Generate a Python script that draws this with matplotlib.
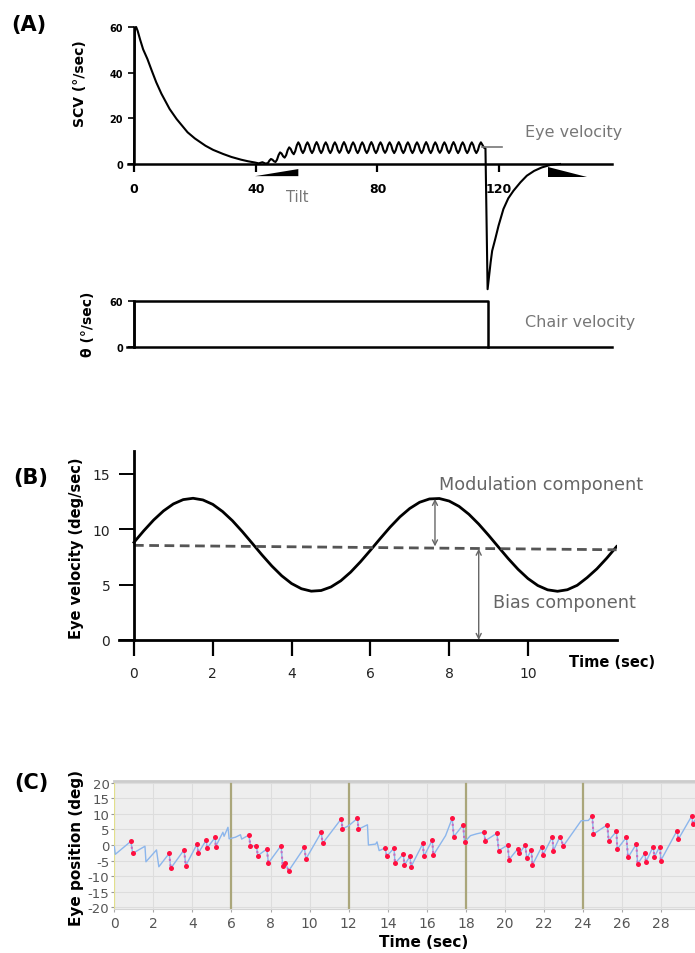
import matplotlib.pyplot as plt

plt.rcParams['axes.unicode_minus'] = False

W, H = 695, 954  # output size in pixels

# ---------------- data: panel (A) ----------------
# eye velocity (deg/s): post-rotatory decay
decay_t = [0, 0.3, 0.7, 1.2, 2.0, 3.0, 4.4, 5.8, 7.3, 9.0, 11.7, 14.0, 17.6, 20.0,
           23.5, 26.0, 29.3, 32.0, 35.2, 37.5, 39.6, 41.0, 42.2, 43.2, 44.0, 44.5]
decay_v = [0, 59, 60, 58.3, 54.5, 50.2, 46.0, 41.0, 35.8, 30.8, 24.1, 19.7, 13.9, 11.2,
           8.0, 6.2, 4.4, 3.1, 1.9, 1.2, 0.7, 0.3, 0.8, 0.2, 0.4, 1.5]
# modulation during tilt
osc_t = [45.0, 45.5, 46.0, 46.5, 47.0, 47.5, 48.0, 48.5, 49.0, 49.5, 50.0, 50.5,
         51.0, 51.5, 52.0, 52.5, 53.0, 53.5,
         54.0, 54.5, 55.0, 55.5, 56.0, 56.5, 57.0, 57.5, 58.0, 58.5, 59.0, 59.5,
         60.0, 60.5, 61.0, 61.5, 62.0, 62.5, 63.0, 63.5, 64.0, 64.5, 65.0, 65.5,
         66.0, 66.5, 67.0, 67.5, 68.0, 68.5, 69.0, 69.5, 70.0, 70.5, 71.0, 71.5,
         72.0, 72.5, 73.0, 73.5, 74.0, 74.5, 75.0, 75.5, 76.0, 76.5, 77.0, 77.5,
         78.0, 78.5, 79.0, 79.5, 80.0, 80.5, 81.0, 81.5, 82.0, 82.5, 83.0, 83.5,
         84.0, 84.5, 85.0, 85.5, 86.0, 86.5, 87.0, 87.5, 88.0, 88.5, 89.0, 89.5,
         90.0, 90.5, 91.0, 91.5, 92.0, 92.5, 93.0, 93.5, 94.0, 94.5, 95.0, 95.5,
         96.0, 96.5, 97.0, 97.5, 98.0, 98.5, 99.0, 99.5, 100.0, 100.5, 101.0, 101.5,
         102.0, 102.5, 103.0, 103.5, 104.0, 104.5, 105.0, 105.5, 106.0, 106.5, 107.0, 107.5,
         108.0, 108.5, 109.0, 109.5, 110.0, 110.5, 111.0, 111.5, 112.0, 112.5, 113.0, 113.5,
         114.0, 114.5, 115.0]
osc_v = [2.2, 1.9, 1.2, 0.9, 1.9, 3.9, 5.1, 4.6, 3.4, 2.8, 3.9, 6.1,
         7.3, 6.6, 5.1, 4.3, 5.7, 8.2,
         9.5, 8.3, 6.0, 4.8, 6.0, 8.3, 9.5, 8.3, 6.0, 4.8, 6.0, 8.3,
         9.6, 8.3, 6.0, 4.8, 6.0, 8.3, 9.5, 8.3, 6.0, 4.8, 6.0, 8.3,
         9.5, 8.3, 6.0, 4.9, 6.0, 8.3, 9.6, 8.3, 6.0, 4.8, 6.0, 8.3,
         9.5, 8.3, 6.0, 4.8, 6.0, 8.3, 9.5, 8.3, 6.0, 4.8, 6.0, 8.3,
         9.6, 8.3, 6.0, 4.8, 6.0, 8.3, 9.5, 8.3, 6.0, 4.9, 6.0, 8.3,
         9.5, 8.3, 6.0, 4.8, 6.0, 8.3, 9.6, 8.3, 6.0, 4.8, 6.0, 8.3,
         9.5, 8.3, 6.0, 4.8, 6.0, 8.3, 9.5, 8.3, 6.0, 4.8, 6.0, 8.3,
         9.6, 8.3, 6.0, 4.8, 6.0, 8.3, 9.5, 8.3, 6.0, 4.9, 6.0, 8.3,
         9.5, 8.3, 6.0, 4.8, 6.0, 8.3, 9.6, 8.3, 6.0, 4.8, 6.0, 8.3,
         9.5, 8.3, 6.0, 4.8, 6.0, 8.3, 9.5, 8.3, 6.0, 4.8, 6.0, 8.3,
         9.5, 8.4, 7.2]
# stop and reversed post-rotatory response
stop_t = [115.5, 116.2, 116.7, 117.2, 117.7, 118.7, 119.8, 121.4, 123.0, 124.7,
          127.0, 129.1, 131.5, 134.0, 136.8, 140.0]
stop_v = [6.8, -54.8, -48.9, -43.0, -38.0, -32.9, -27.0, -19.7, -15.0, -11.7,
          -8.0, -5.1, -3.0, -1.5, -0.4, 0.0]
steady_t = [114.4, 121.0]
steady_v = [7.3, 7.3]
tilt_on_t = [39.8, 54.0, 54.0]
tilt_on_v = [-5.3, -2.2, -5.3]
tilt_off_t = [135.9, 135.9, 148.8]
tilt_off_v = [-1.4, -5.6, -5.6]
# chair velocity
chair_t = [0, 0, 116.4, 116.4]
chair_v = [0, 60, 60, 0]

# ---------------- data: panel (B) ----------------
b_t = [0, 0.25, 0.5, 0.75, 1.0, 1.25, 1.5, 1.75, 2.0, 2.25, 2.5, 2.75, 3.0,
       3.25, 3.5, 3.75, 4.0, 4.25, 4.5, 4.75, 5.0, 5.25, 5.5, 5.75, 6.0,
       6.25, 6.5, 6.75, 7.0, 7.25, 7.5, 7.75, 8.0, 8.25, 8.5, 8.75, 9.0,
       9.25, 9.5, 9.75, 10.0, 10.25, 10.5, 10.75, 11.0, 11.25, 11.5, 11.75,
       12.0, 12.25]
b_v = [8.82, 9.87, 10.84, 11.66, 12.29, 12.68, 12.80, 12.65, 12.25, 11.60,
       10.77, 9.79, 8.74, 7.68, 6.68, 5.80, 5.10, 4.63, 4.41, 4.47, 4.79,
       5.35, 6.13, 7.07, 8.10, 9.16, 10.19, 11.12, 11.88, 12.44, 12.74, 12.78,
       12.55, 12.07, 11.36, 10.47, 9.46, 8.40, 7.35, 6.38, 5.55, 4.92, 4.53,
       4.40, 4.54, 4.94, 5.63, 6.43, 7.39, 8.44]
bias_t = [0, 12.25]
bias_v = [8.55, 8.15]
mod_arrow = (7.64, 12.75, 8.45)   # x, top, bottom
bias_arrow = (8.75, 0.0, 8.25)

# ---------------- data: panel (C) ----------------
c_t = [0.00, 0.05, 0.85, 0.94, 1.57, 1.62, 2.16, 2.28, 2.81, 2.89, 3.57, 3.66,
       4.24, 4.30, 4.71, 4.75, 5.17, 5.19, 5.56, 5.62, 5.82, 5.88, 6.20, 6.46,
       6.52, 6.89, 6.97, 7.27, 7.35, 7.81, 7.89, 8.54, 8.62, 8.75, 8.93, 9.73,
       9.81, 10.60, 10.66, 11.63, 11.68, 12.00, 12.45, 12.50, 12.96, 13.01,
       13.38, 13.45, 13.56, 13.86, 13.95, 14.32, 14.37, 14.80, 14.85, 15.14,
       15.19, 15.80, 15.85, 16.28, 16.33, 16.96, 17.30, 17.38, 17.86, 17.93,
       18.23, 18.55, 18.91, 19.00, 19.59, 19.68, 20.14, 20.21, 20.65, 20.74,
       21.04, 21.12, 21.35, 21.41, 21.89, 21.95, 22.43, 22.48, 22.82, 22.99,
       23.90, 24.27, 24.47, 24.53, 25.24, 25.31, 25.71, 25.75, 26.22, 26.30,
       26.73, 26.79, 27.16, 27.22, 27.59, 27.65, 27.93, 27.98, 28.81, 28.88,
       29.57, 29.62, 29.73]
c_y = [-0.5, -3.0, 1.2, -2.7, -0.4, -5.4, -1.6, -7.0, -2.7, -7.5, -1.6, -6.6,
       0.3, -2.6, 1.6, -1.0, 2.5, -0.5, 4.1, 2.8, 5.7, 2.0, 2.5, 3.3,
       1.9, 3.2, -0.3, -0.2, -3.4, -1.3, -5.8, -0.2, -6.6, -5.8, -8.3, -0.8,
       -4.5, 4.1, 0.5, 8.5, 5.2, 6.2, 8.6, 5.1, 6.5, 0.0,
       0.3, 1.0, -1.8, -1.0, -3.6, -1.0, -5.9, -2.9, -6.4, -3.7,
       -7.0, 0.5, -3.7, 1.6, -3.3, 3.0, 8.6, 2.7, 6.5, 0.9,
       3.0, 3.6, 4.1, 1.4, 3.8, -1.8, 0.0, -4.7, -1.3, -2.7,
       0.0, -4.3, -1.6, -6.4, -0.5, -3.2, 2.7, -1.8, 2.7, -0.3,
       7.8, 7.9, 9.4, 3.5, 6.5, 1.4, 4.4, -1.3, 2.5, -4.0,
       0.3, -6.1, -2.7, -5.4, -0.5, -3.8, -0.5, -5.0, 4.6, 1.9,
       9.4, 6.7, 8.0]
# quick phases (start -> end)
sac_t0 = [0.85, 2.81, 3.57, 4.24, 4.71, 5.17, 6.89, 7.27, 7.81, 8.54, 8.75, 9.73,
          10.60, 11.63, 12.45, 13.86, 14.32, 14.80, 15.14, 15.80, 16.28, 17.30,
          17.86, 18.91, 19.59, 20.14, 20.65, 21.04, 21.35, 21.89, 22.43, 22.82,
          24.47, 25.24, 25.71, 26.22, 26.73, 27.16, 27.59, 27.93, 28.81, 29.57]
sac_y0 = [1.2, -2.7, -1.6, 0.3, 1.6, 2.5, 3.2, -0.2, -1.3, -0.2, -5.8, -0.8,
          4.1, 8.5, 8.6, -1.0, -1.0, -2.9, -3.7, 0.5, 1.6, 8.6,
          6.5, 4.1, 3.8, 0.0, -1.3, 0.0, -1.6, -0.5, 2.7, 2.7,
          9.4, 6.5, 4.4, 2.5, 0.3, -2.7, -0.5, -0.5, 4.6, 9.4]
sac_t1 = [0.94, 2.89, 3.66, 4.30, 4.75, 5.19, 6.97, 7.35, 7.89, 8.62, 8.93, 9.81,
          10.66, 11.68, 12.50, 13.95, 14.37, 14.85, 15.19, 15.85, 16.33, 17.38,
          17.93, 19.00, 19.68, 20.21, 20.74, 21.12, 21.41, 21.95, 22.48, 22.99,
          24.53, 25.31, 25.75, 26.30, 26.79, 27.22, 27.65, 27.98, 28.88, 29.62]
sac_y1 = [-2.7, -7.5, -6.6, -2.6, -1.0, -0.5, -0.3, -3.4, -5.8, -6.6, -8.3, -4.5,
          0.5, 5.2, 5.1, -3.6, -5.9, -6.4, -7.0, -3.7, -3.3, 2.7,
          0.9, 1.4, -1.8, -4.7, -2.7, -4.3, -6.4, -3.2, -1.8, -0.3,
          3.5, 1.4, -1.3, -4.0, -6.1, -5.4, -3.8, -5.0, 1.9, 6.7]
dividers = [0, 6, 12, 18, 24]


def fx(x):
    return x / W


def fy(y):
    return 1 - y / H


fig = plt.figure(figsize=(W / 100, H / 100), dpi=100)

##### (A) eye velocity
ax1 = fig.add_axes([fx(116), fy(295), 500 / W, 275 / H])
ax1.patch.set_alpha(0)
ax1.set_xlim(-5.92, 158.4)
ax1.set_ylim(-56.9, 63.5)
ax1.plot(decay_t + osc_t + stop_t, decay_v + osc_v + stop_v, color='black', lw=1.5,
         solid_joinstyle='round')
ax1.plot(steady_t, steady_v, color='#777777', lw=1.2)
ax1.fill(tilt_on_t, tilt_on_v, color='black', lw=0)
ax1.fill(tilt_off_t, tilt_off_v, color='black', lw=0)
for s in ['top', 'right']:
    ax1.spines[s].set_visible(False)
ax1.spines['bottom'].set_position(('data', 0))
ax1.spines['bottom'].set_bounds(-2, 157)
ax1.spines['left'].set_position(('data', 0))
ax1.spines['left'].set_bounds(0, 60)
for s in ['bottom', 'left']:
    ax1.spines[s].set_linewidth(1.8)
ax1.set_xticks([0, 40, 80, 120], ['0', '40', '80', '120'], fontsize=9, fontweight='bold')
ax1.set_yticks([0, 20, 40, 60], ['0', '20', '40', '60'], fontsize=7, fontweight='bold')
ax1.tick_params(axis='x', direction='out', length=6, width=1.6, pad=7)
ax1.tick_params(axis='y', direction='out', length=4, width=1.2, pad=4)

##### (A) chair velocity
ax2 = fig.add_axes([fx(116), fy(352), 500 / W, 60 / H])
ax2.patch.set_alpha(0)
ax2.set_xlim(-5.92, 158.4)
ax2.set_ylim(-5.2, 73.0)
ax2.plot(chair_t, chair_v, color='black', lw=1.8)
for s in ['top', 'right']:
    ax2.spines[s].set_visible(False)
ax2.spines['bottom'].set_position(('data', 0))
ax2.spines['bottom'].set_bounds(-2.3, 157)
ax2.spines['bottom'].set_linewidth(1.8)
ax2.spines['left'].set_position(('data', 0))
ax2.spines['left'].set_bounds(0, 60)
ax2.spines['left'].set_linewidth(1.8)
ax2.set_xticks([])
ax2.set_yticks([0, 60], ['0', '60'], fontsize=7, fontweight='bold')
ax2.tick_params(axis='y', direction='out', length=4, width=1.2, pad=4)

fig.text(fx(29), fy(25), '(A)', fontsize=15, fontweight='bold', ha='center', va='center')
fig.text(fx(80), fy(84), 'SCV (°/sec)', fontsize=10, fontweight='bold', rotation=90,
         ha='center', va='center')
fig.text(fx(88), fy(324), 'θ (°/sec)', fontsize=10, fontweight='bold', rotation=90,
         ha='center', va='center')
fig.text(fx(525), fy(133), 'Eye velocity', fontsize=11.5, color='#777777', va='center')
fig.text(fx(297), fy(197), 'Tilt', fontsize=10.5, color='#777777', ha='center', va='center')
fig.text(fx(525), fy(322), 'Chair velocity', fontsize=11.5, color='#777777', va='center')

##### (B) modulation / bias
ax3 = fig.add_axes([fx(119), fy(641), 498 / W, 189 / H])
ax3.patch.set_alpha(0)
ax3.set_xlim(-0.38, 12.26)
ax3.set_ylim(0, 17.07)
ax3.plot(b_t, b_v, color='black', lw=2)
ax3.plot(bias_t, bias_v, color='#555555', lw=2, dashes=(3.5, 2))
for xa, y_top, y_bot in [mod_arrow, bias_arrow]:
    ax3.annotate('', xy=(xa, y_top), xytext=(xa, y_bot),
                 arrowprops=dict(arrowstyle='<->', color='#666666', lw=1,
                                 mutation_scale=9, shrinkA=0, shrinkB=0))
for s in ['top', 'right']:
    ax3.spines[s].set_visible(False)
ax3.spines['left'].set_position(('data', 0))
ax3.spines['left'].set_linewidth(2)
ax3.spines['bottom'].set_linewidth(2)
ax3.set_xticks([0, 2, 4, 6, 8, 10])
ax3.set_yticks([0, 5, 10, 15])
ax3.tick_params(axis='x', direction='out', length=11.5, width=1.6, pad=7, labelsize=10,
                labelcolor='#222222')
ax3.tick_params(axis='y', direction='out', length=11, width=1.4, pad=6, labelsize=10,
                labelcolor='#222222')

fig.text(fx(31), fy(478), '(B)', fontsize=15, fontweight='bold', ha='center', va='center')
fig.text(fx(77), fy(548), 'Eye velocity (deg/sec)', fontsize=10.5, fontweight='bold',
         rotation=90, ha='center', va='center')
fig.text(fx(612), fy(663), 'Time (sec)', fontsize=10.5, fontweight='bold',
         ha='center', va='center')
fig.text(fx(439), fy(485), 'Modulation component', fontsize=12.7, color='#666666', va='center')
fig.text(fx(493), fy(603), 'Bias component', fontsize=12.7, color='#666666', va='center')

##### (C) eye position trace
ax4 = fig.add_axes([fx(114.3), fy(910), 580.7 / W, 128 / H])
ax4.set_facecolor('#eeeeee')
ax4.set_xlim(0, 29.73)
ax4.set_ylim(-20.6, 20.6)
ax4.set_xticks(range(0, 30, 2))
ax4.set_yticks(range(-20, 21, 5))
ax4.grid(color='#dddddd', lw=0.8)
ax4.set_axisbelow(True)
for d in dividers:
    ax4.axvline(d, color='#e2df8c' if d == 0 else '#aaa67a', lw=1.6)
ax4.plot(c_t, c_y, color='#8cb6ec', lw=1)
for t0, y0, t1, y1 in zip(sac_t0, sac_y0, sac_t1, sac_y1):
    ax4.plot([t0, t1], [y0, y1], color='#c86cc0', lw=1.5, ls=':')
ax4.plot(sac_t0, sac_y0, 'o', color='#ff1040', ms=3.6, mew=0)
ax4.plot(sac_t1, sac_y1, 'o', color='#ff1040', ms=3.6, mew=0)
ax4.spines['top'].set_color('#cccccc')
ax4.spines['top'].set_linewidth(2)
ax4.spines['bottom'].set_color('#d4d4d4')
ax4.spines['left'].set_visible(False)
ax4.spines['right'].set_visible(False)
ax4.tick_params(axis='x', length=2, color='#aaaaaa', labelsize=10, labelcolor='#555555', pad=3)
ax4.tick_params(axis='y', length=2.5, color='#999999', labelsize=9.5, labelcolor='#555555', pad=1)

fig.text(fx(31), fy(783), '(C)', fontsize=15, fontweight='bold', ha='center', va='center')
fig.text(fx(77), fy(848), 'Eye position (deg)', fontsize=11, fontweight='bold',
         rotation=90, ha='center', va='center')
fig.text(fx(424), fy(943), 'Time (sec)', fontsize=11, fontweight='bold',
         ha='center', va='center')

fig.savefig('out.png', dpi=100)
